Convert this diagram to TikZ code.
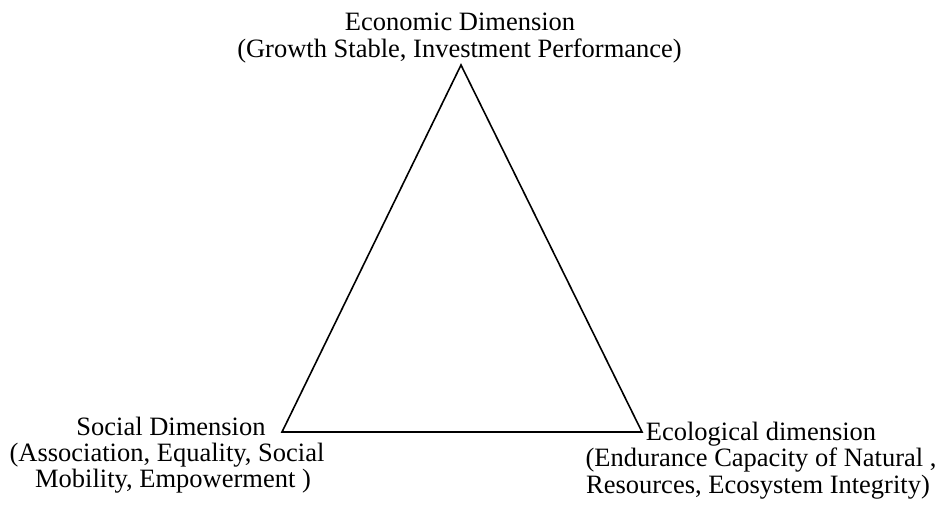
\documentclass[tikz,border=0pt]{standalone}
\usepackage{fontspec}
\setmainfont{Liberation Serif}
\begin{document}
\begin{tikzpicture}[x=1pt,y=-1pt,
  lbl/.style={inner sep=0pt,anchor=base,font=\fontsize{26.5}{27}\selectfont},
  edge/.style={line width=1.6pt,line join=miter}]
\useasboundingbox (0,0) rectangle (942,504);
% vertices
\coordinate (A) at (461,65);
\coordinate (B) at (282,432);
\coordinate (C) at (642,432);
\draw[edge] (A) -- (B) -- (C) -- cycle;
% top labels
\node[lbl] (e1) at (460,30.5) {Economic Dimension};
\node[lbl] (e2) at (459.5,57) {(Growth Stable, Investment Performance)};
% left labels
\node[lbl] (s1) at (171,435) {Social Dimension};
\node[lbl] (s2) at (167,461) {(Association, Equality, Social};
\node[lbl] (s3) at (173,487) {Mobility, Empowerment )};
% right labels
\node[lbl] (g1) at (761,440.5) {Ecological dimension};
\node[lbl] (g2) at (761,466.5) {(Endurance Capacity of Natural ,};
\node[lbl] (g3) at (758,493) {Resources, Ecosystem Integrity)};
\end{tikzpicture}
\end{document}
